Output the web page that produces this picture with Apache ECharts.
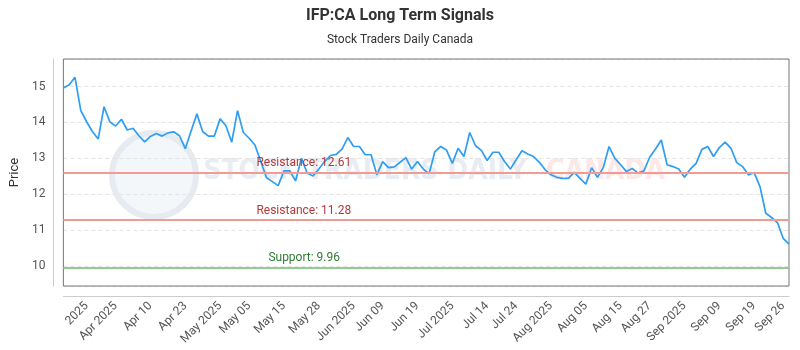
<!DOCTYPE html>
<html>
<head>
<meta charset="utf-8">
<script src="https://cdn.jsdelivr.net/npm/echarts@6/dist/echarts.min.js"></script>
<style>
  html, body { margin: 0; padding: 0; background: #fff; }
  #chart { width: 800px; height: 350px; }
</style>
</head>
<body>
<div id="chart"></div>
<script>
// closing prices, one per trading session
const prices = [
  14.96, 15.05, 15.26, 14.33, 14.02, 13.75, 13.54, 14.44, 14.02, 13.90,
  14.09, 13.79, 13.84, 13.63, 13.46, 13.61, 13.69, 13.62, 13.71, 13.74,
  13.63, 13.27, 13.76, 14.24, 13.74, 13.62, 13.62, 14.10, 13.91, 13.45,
  14.33, 13.72, 13.56, 13.37, 12.91, 12.46, 12.35, 12.24, 12.65, 12.65,
  12.37, 13.00, 12.59, 12.51, 12.70, 12.91, 13.08, 13.11, 13.26, 13.58,
  13.33, 13.33, 13.10, 13.10, 12.54, 12.91, 12.74, 12.76, 12.89, 13.02,
  12.70, 12.91, 12.70, 12.57, 13.19, 13.33, 13.23, 12.86, 13.28, 13.05,
  13.72, 13.35, 13.22, 12.94, 13.17, 13.17, 12.91, 12.70, 12.96, 13.21,
  13.12, 13.05, 12.89, 12.68, 12.54, 12.47, 12.44, 12.44, 12.61, 12.44,
  12.28, 12.74, 12.47, 12.74, 13.33, 13.00, 12.82, 12.63, 12.72, 12.59,
  12.65, 13.03, 13.26, 13.51, 12.82, 12.77, 12.70, 12.47, 12.70, 12.86,
  13.25, 13.33, 13.05, 13.30, 13.45, 13.28, 12.88, 12.77, 12.54, 12.60,
  12.21, 11.47, 11.35, 11.21, 10.77, 10.61
]

// tick labels and the session they sit on
const labelIdx = [4, 9, 15, 21, 27, 32, 38, 44, 50, 55, 61, 67, 73, 78, 84, 90, 96, 101, 107, 113, 119, 124]
const labelText = [
  '2025', 'Apr 2025', 'Apr 10', 'Apr 23', 'May 2025', 'May 05', 'May 15', 'May 28',
  'Jun 2025', 'Jun 09', 'Jun 19', 'Jul 2025', 'Jul 14', 'Jul 24', 'Aug 2025',
  'Aug 05', 'Aug 15', 'Aug 27', 'Sep 2025', 'Sep 09', 'Sep 19', 'Sep 26'
]

const levelNames = ['Resistance', 'Resistance', 'Support']
const levelValues = [12.61, 11.28, 9.96]

const categories = prices.map((p, i) => {
  const k = labelIdx.indexOf(i)
  return k >= 0 ? labelText[k] : ''
})

const font = 'Roboto, "Noto Sans", sans-serif'

const chart = echarts.init(document.getElementById('chart'))
const option = {
  backgroundColor: '#fff',
  animation: false,
  textStyle: { fontFamily: font },
  title: {
    text: 'IFP:CA Long Term Signals',
    subtext: 'Stock Traders Daily Canada',
    left: 'center',
    top: 3,
    itemGap: 10,
    textStyle: { fontSize: 16, fontWeight: 'bold', color: '#333', fontFamily: font },
    subtextStyle: { fontSize: 12, color: '#333', fontFamily: font },
  },
  // faint watermark behind the plot
  graphic: [
    {
      type: 'circle',
      shape: { cx: 154, cy: 175, r: 42 },
      style: { fill: '#f4f7fa', stroke: '#e6ebf2', lineWidth: 6 },
      silent: true,
      z: 0,
    },
    {
      type: 'text',
      style: {
        x: 527, y: 172, text: 'STOCK TRADERS DAILY',
        font: 'bold 28px "DejaVu Sans Condensed", sans-serif',
        fill: '#e8edf4', verticalAlign: 'middle', align: 'right',
      },
      silent: true,
      z: 0,
    },
    {
      type: 'text',
      style: {
        x: 546, y: 172, text: 'CANADA',
        font: 'bold 28px "DejaVu Sans Condensed", sans-serif',
        fill: '#fde8e8', verticalAlign: 'middle',
      },
      silent: true,
      z: 0,
    },
  ],
  grid: {
    left: 61,
    right: 11,
    top: 59,
    bottom: 64,
    show: true,
    borderColor: '#777',
    borderWidth: 1,
    z: 1,
  },
  xAxis: {
    type: 'category',
    data: categories,
    boundaryGap: false,
    offset: 10,
    axisLine: { lineStyle: { color: '#ccc' } },
    axisTick: { show: false },
    axisLabel: {
      rotate: 45,
      interval: (idx) => labelIdx.includes(idx),
      color: '#555',
      fontSize: 12,
      margin: 8,
    },
    splitLine: { show: false },
  },
  yAxis: {
    type: 'value',
    min: 9.44,
    max: 15.77,
    offset: 10,
    name: 'Price',
    nameLocation: 'middle',
    nameGap: 30,
    nameTextStyle: { fontSize: 13, color: '#333' },
    axisLine: { show: true, lineStyle: { color: '#ccc' } },
    axisTick: { show: false },
    axisLabel: {
      color: '#555',
      fontSize: 12,
      margin: 8,
      showMinLabel: false,
      showMaxLabel: false,
    },
    splitLine: { lineStyle: { color: '#e3e3e3', type: [4, 3] } },
  },
  series: [
    {
      type: 'line',
      data: prices,
      showSymbol: false,
      lineStyle: { color: '#2f9ef2', width: 1.7 },
      itemStyle: { color: '#2f9ef2' },
      z: 3,
      markLine: {
        silent: true,
        symbol: 'none',
        animation: false,
        data: levelValues.map((v, i) => {
          const red = levelNames[i] === 'Resistance'
          return {
            yAxis: v,
            lineStyle: { color: red ? '#f29a96' : '#92cc92', width: 2, type: 'solid' },
            label: {
              position: 'insideStartTop',
              distance: [red ? 193 : 205, 3],
              formatter: levelNames[i] + ': ' + v.toFixed(2),
              color: red ? '#b23a3a' : '#2e7d32',
              fontSize: 12,
            },
          }
        }),
      },
    },
  ],
}
chart.setOption(option)
</script>
</body>
</html>
